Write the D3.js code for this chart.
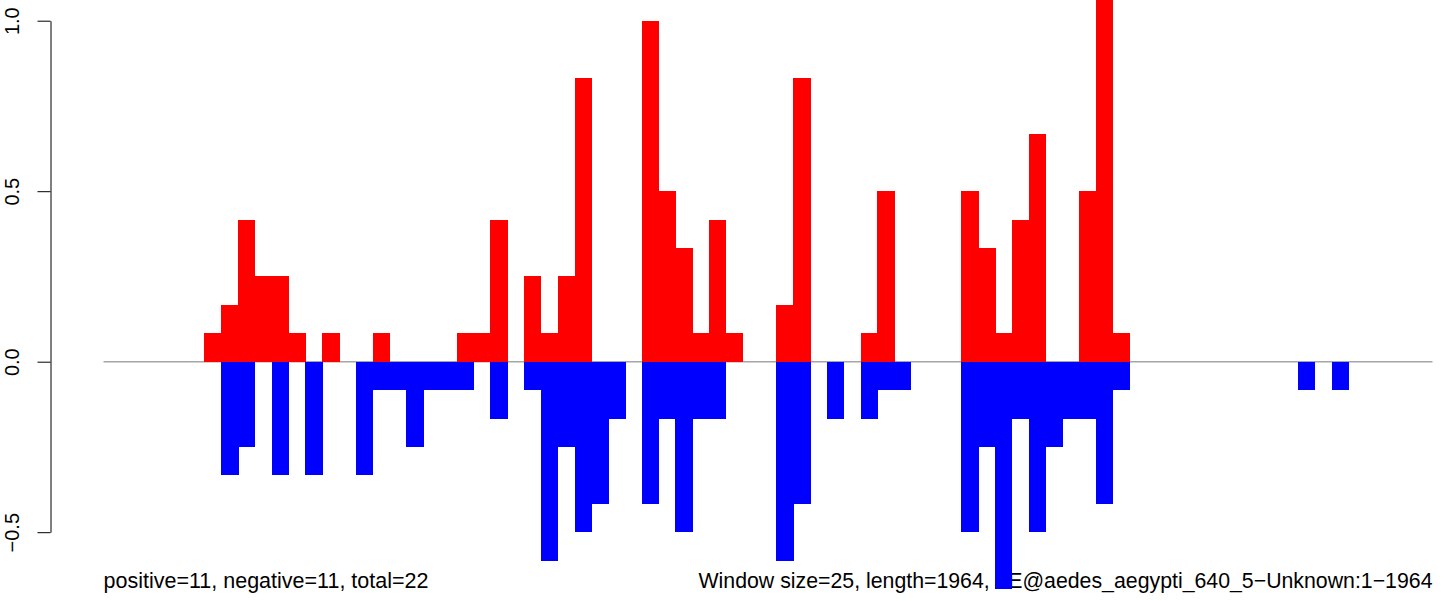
<!DOCTYPE html>
<html>
<head>
<meta charset="utf-8">
<script src="https://cdn.jsdelivr.net/npm/d3@7"></script>
<style>
	body { margin: 0; background: #fff; }
	text { font-family: "Liberation Sans", Arial, Helvetica, sans-serif; }
</style>
</head>
<body>
<div id="chart"></div>
<script>
// one entry per 25 bp window (79 windows over 1964 bp)
var windows = d3.range(79);

var positiveValues = [
	0, 0, 0, 0, 0, 0, 0.083, 0.167, 0.417, 0.25,
	0.25, 0.083, 0, 0.083, 0, 0, 0.083, 0, 0, 0,
	0, 0.083, 0.083, 0.417, 0, 0.25, 0.083, 0.25, 0.833, 0,
	0, 0, 1.0, 0.5, 0.333, 0.083, 0.417, 0.083, 0, 0,
	0.167, 0.833, 0, 0, 0, 0.083, 0.5, 0, 0, 0,
	0, 0.5, 0.333, 0.083, 0.417, 0.667, 0, 0, 0.5, 1.083,
	0.083, 0, 0, 0, 0, 0, 0, 0, 0, 0,
	0, 0, 0, 0, 0, 0, 0, 0, 0
];

var negativeValues = [
	0, 0, 0, 0, 0, 0, 0, -0.333, -0.25, 0,
	-0.333, 0, -0.333, 0, 0, -0.333, -0.083, -0.083, -0.25, -0.083,
	-0.083, -0.083, 0, -0.167, 0, -0.083, -0.583, -0.25, -0.5, -0.417,
	-0.167, 0, -0.417, -0.167, -0.5, -0.167, -0.167, 0, 0, 0,
	-0.583, -0.417, 0, -0.167, 0, -0.167, -0.083, -0.083, 0, 0,
	0, -0.5, -0.25, -0.667, -0.167, -0.5, -0.25, -0.167, -0.167, -0.417,
	-0.083, 0, 0, 0, 0, 0, 0, 0, 0, 0,
	0, -0.083, 0, -0.083, 0, 0, 0, 0, 0
];

var yTicks = [-0.5, 0, 0.5, 1.0];

var leftNote = 'positive=11, negative=11, total=22';
var rightNote = 'Window size=25, length=1964, TE@aedes_aegypti_640_5\u2212Unknown:1\u22121964';

var W = 1444, H = 601;

var svg = d3.select('#chart').append('svg')
	.attr('width', W)
	.attr('height', H);

var x = d3.scaleLinear().domain([0, windows.length]).range([103.5, 1432.5]);
var y = d3.scaleLinear().domain([-0.5, 1.0]).range([532.2, 20.7]);

// bottom notes (bars are drawn over them, as in the original)
svg.append('text')
	.attr('x', 103.5)
	.attr('y', 588)
	.style('font-size', '21.5px')
	.text(leftNote);

svg.append('text')
	.attr('x', 1432.5)
	.attr('y', 588)
	.attr('text-anchor', 'end')
	.style('font-size', '21.3px')
	.text(rightNote);

// zero line
svg.append('line')
	.attr('x1', x(0)).attr('x2', x(windows.length))
	.attr('y1', y(0)).attr('y2', y(0))
	.attr('stroke', '#a6a6a6')
	.attr('stroke-width', 1.4);

var bw = x(1) - x(0);

svg.append('g').attr('shape-rendering', 'crispEdges').selectAll('rect')
	.data(windows.filter(function(i) { return positiveValues[i] > 0; }))
	.enter().append('rect')
	.attr('x', function(i) { return x(i); })
	.attr('width', bw + 0.5)
	.attr('y', function(i) { return y(positiveValues[i]); })
	.attr('height', function(i) { return y(0) - y(positiveValues[i]); })
	.attr('fill', '#ff0000');

svg.append('g').attr('shape-rendering', 'crispEdges').selectAll('rect')
	.data(windows.filter(function(i) { return negativeValues[i] < 0; }))
	.enter().append('rect')
	.attr('x', function(i) { return x(i); })
	.attr('width', bw + 0.5)
	.attr('y', y(0))
	.attr('height', function(i) { return y(negativeValues[i]) - y(0); })
	.attr('fill', '#0000ff');

// y axis
var yAxis = svg.append('g')
	.attr('transform', 'translate(50.5,0)')
	.call(d3.axisLeft(y).tickValues(yTicks).tickFormat(d3.format('.1f')).tickSize(13).tickSizeOuter(0));
yAxis.select('.domain').attr('stroke', '#000').attr('stroke-width', 1);
yAxis.selectAll('.tick line').attr('stroke', '#000').attr('stroke-width', 1);
yAxis.selectAll('.tick text')
	.attr('transform', 'rotate(-90)')
	.attr('x', 0)
	.attr('y', -32)
	.attr('dy', null)
	.attr('text-anchor', 'middle')
	.attr('fill', '#000')
	.style('font-size', '20px')
	.style('font-family', '"Liberation Sans", Arial, sans-serif');
</script>
</body>
</html>
